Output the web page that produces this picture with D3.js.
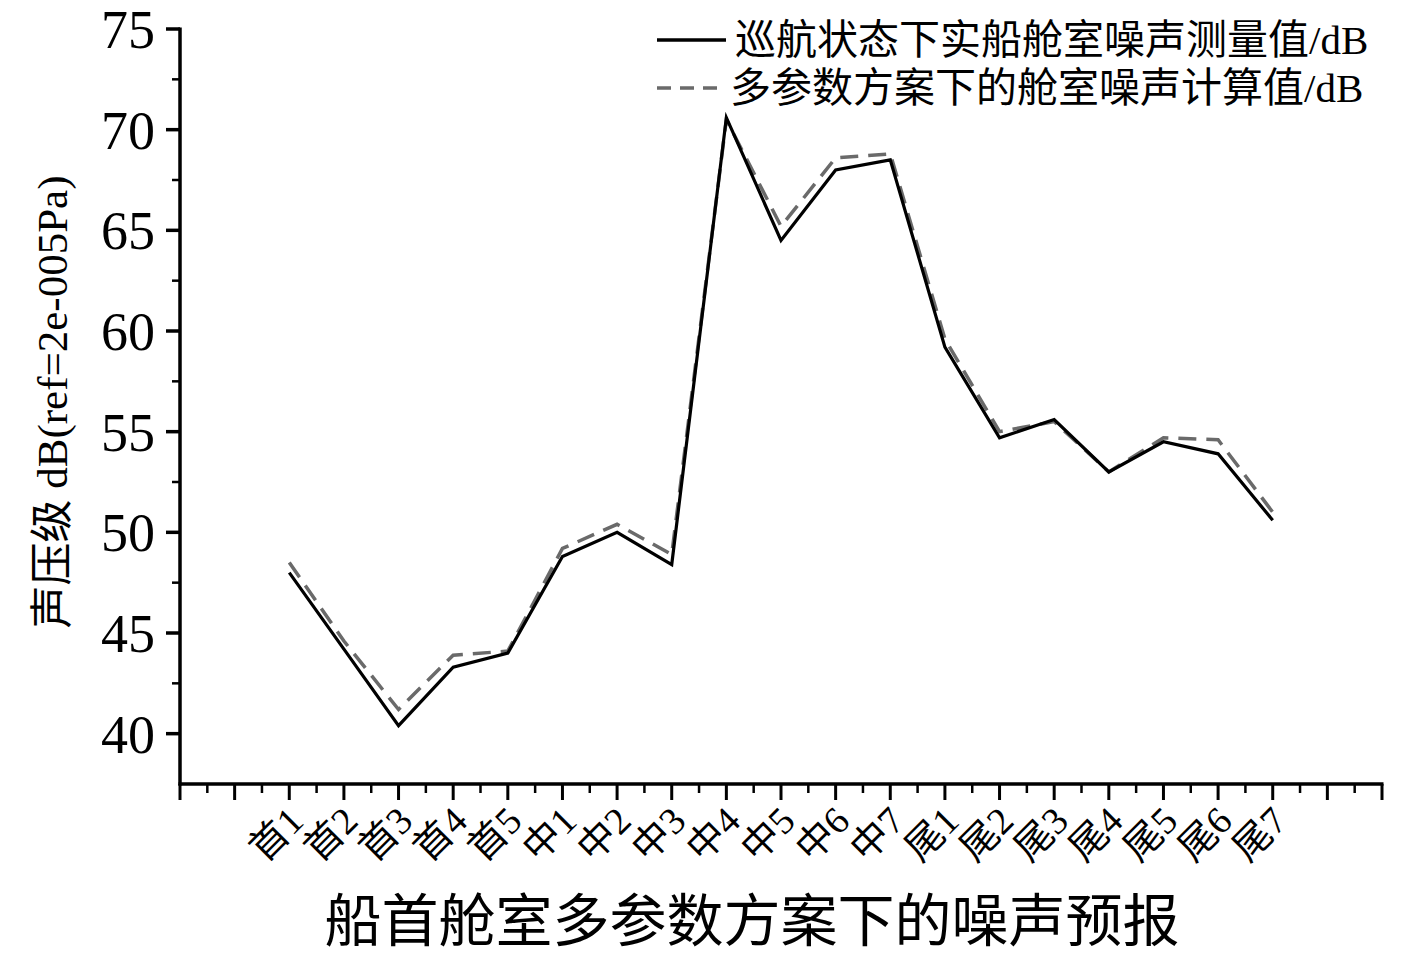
<!DOCTYPE html>
<html>
<head>
<meta charset="utf-8">
<script src="https://cdn.jsdelivr.net/npm/d3@7"></script>
<style>
  html, body { margin: 0; padding: 0; background: #fff; }
  svg { display: block; }
  text { font-family: "Liberation Serif", "Noto Sans CJK SC", serif; fill: #000; }
</style>
</head>
<body>
<svg id="chart" width="1417" height="954"></svg>
<script>
const categories = ["首1","首2","首3","首4","首5","中1","中2","中3","中4","中5","中6","中7","尾1","尾2","尾3","尾4","尾5","尾6","尾7"];
const measured = [48.0, 44.2, 40.4, 43.3, 44.0, 48.8, 50.0, 48.4, 70.6, 64.5, 68.0, 68.5, 59.2, 54.7, 55.6, 53.0, 54.5, 53.9, 50.6];
const computed = [48.5, 44.6, 41.2, 43.9, 44.1, 49.2, 50.4, 48.9, 70.5, 65.2, 68.6, 68.8, 59.6, 55.0, 55.5, 53.0, 54.7, 54.6, 51.0];
const yTicks = [40, 45, 50, 55, 60, 65, 70, 75];
const yMinorTicks = [42.5, 47.5, 52.5, 57.5, 62.5, 67.5, 72.5];
const seriesNames = ["巡航状态下实船舱室噪声测量值/dB", "多参数方案下的舱室噪声计算值/dB"];
const xTitle = "船首舱室多参数方案下的噪声预报";
const yTitle = "声压级 dB(ref=2e-005Pa)";

(function () {
const svg = d3.select("#chart");
const pL = 180, pR = 1382, pT = 29, pB = 784;

const x = d3.scalePoint().domain(categories).range([pL, pR]).padding(2);
const step = x.step();
const y = d3.scaleLinear().domain([37.5, 75]).range([pB, pT]);

const nSteps = Math.round((pR - pL) / step);
const xTickScale = d3.scaleLinear().domain([0, nSteps]).range([pL, pR]);
const gx = svg.append("g").attr("transform", `translate(0,${pB})`);
gx.append("line").attr("x1", pL - 1.5).attr("x2", pR + 1.5).attr("y1", 0).attr("y2", 0)
  .attr("stroke", "#000").attr("stroke-width", 3.5);
gx.selectAll("line.maj").data(d3.range(0, nSteps + 1)).join("line").attr("class", "maj")
  .attr("x1", d => xTickScale(d)).attr("x2", d => xTickScale(d))
  .attr("y1", 0).attr("y2", 16).attr("stroke", "#000").attr("stroke-width", 3);
gx.selectAll("line.min").data(d3.range(0.5, nSteps, 1)).join("line").attr("class", "min")
  .attr("x1", d => xTickScale(d)).attr("x2", d => xTickScale(d))
  .attr("y1", 0).attr("y2", 9).attr("stroke", "#000").attr("stroke-width", 2.5);

svg.append("g").selectAll("text").data(categories).join("text")
  .attr("transform", d => `translate(${x(d) - 4},${803}) rotate(-45)`)
  .attr("text-anchor", "end")
  .attr("dy", "0.75em")
  .attr("font-size", 38)
  .text(d => d);

const gy = svg.append("g").attr("transform", `translate(${pL},0)`);
gy.append("line").attr("x1", 0).attr("x2", 0).attr("y1", pT - 1.5).attr("y2", pB + 1.5)
  .attr("stroke", "#000").attr("stroke-width", 3.5);
gy.selectAll("line.maj").data(yTicks).join("line").attr("class", "maj")
  .attr("x1", -14).attr("x2", 0).attr("y1", d => y(d)).attr("y2", d => y(d))
  .attr("stroke", "#000").attr("stroke-width", 3.5);
gy.selectAll("line.min").data(yMinorTicks).join("line").attr("class", "min")
  .attr("x1", -8).attr("x2", 0).attr("y1", d => y(d)).attr("y2", d => y(d))
  .attr("stroke", "#000").attr("stroke-width", 2.5);
gy.selectAll("text").data(yTicks).join("text")
  .attr("x", -25).attr("y", d => y(d)).attr("dy", "0.35em")
  .attr("text-anchor", "end").attr("font-size", 54)
  .text(d => d);

svg.append("text").attr("transform", `translate(67,${402}) rotate(-90)`)
  .attr("text-anchor", "middle").attr("font-size", 43).text(yTitle);
svg.append("text").attr("x", 752).attr("y", 941).attr("text-anchor", "middle")
  .attr("font-size", 57).text(xTitle);

const line = d3.line().x((d, i) => x(categories[i])).y(d => y(d));
svg.append("path").datum(computed).attr("d", line).attr("fill", "none")
  .attr("stroke", "#6a6a6a").attr("stroke-width", 3.5).attr("stroke-dasharray", "18,10");
svg.append("path").datum(measured).attr("d", line).attr("fill", "none")
  .attr("stroke", "#000").attr("stroke-width", 3.2).attr("stroke-linejoin", "miter");

const lg = svg.append("g");
const legendRows = [
  { name: seriesNames[0], color: "#000", dash: null, y: 40, tx: 735 },
  { name: seriesNames[1], color: "#6a6a6a", dash: "14,9", y: 88, tx: 730 }
];
lg.selectAll("line").data(legendRows).join("line")
  .attr("x1", 657).attr("x2", 726).attr("y1", d => d.y).attr("y2", d => d.y)
  .attr("stroke", d => d.color).attr("stroke-width", 3.5)
  .attr("stroke-dasharray", d => d.dash);
lg.selectAll("text").data(legendRows).join("text")
  .attr("x", d => d.tx).attr("y", d => d.y).attr("dy", "0.35em")
  .attr("font-size", 41).text(d => d.name);
})();
</script>
</body>
</html>
